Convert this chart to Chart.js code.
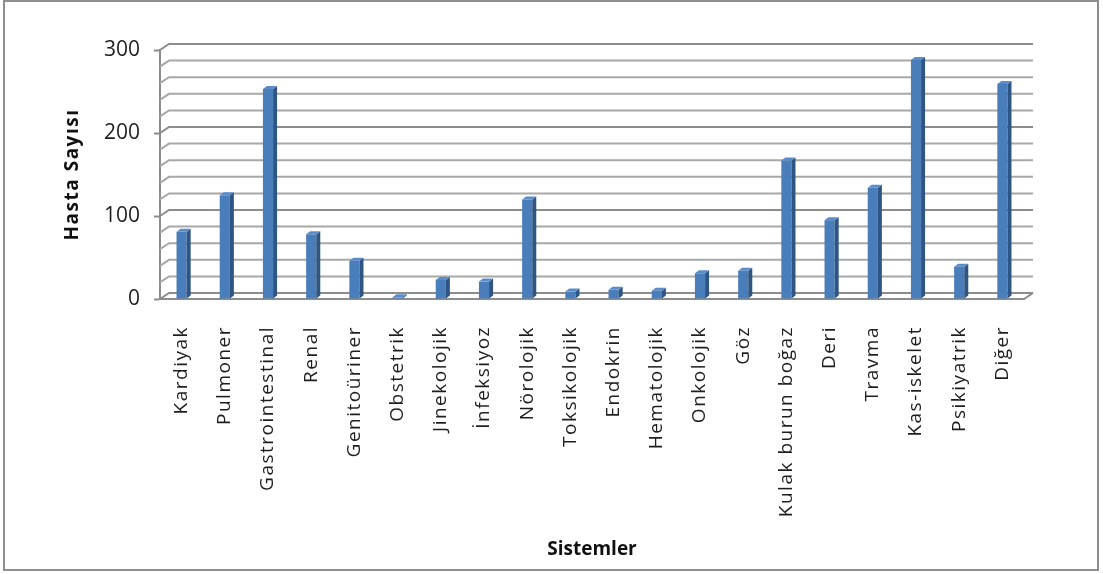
<!DOCTYPE html>
<html>
<head>
<meta charset="utf-8">
<script src="https://cdn.jsdelivr.net/npm/chart.js@4.4.1/dist/chart.umd.min.js"></script>
<style>
  html, body { margin: 0; padding: 0; background: #ffffff; }
  canvas { display: block; }
</style>
</head>
<body>
<canvas id="chart" width="1103" height="574"></canvas>
<script>
// Sistemlere göre hasta sayıları
const categories = [
  'Kardiyak', 'Pulmoner', 'Gastrointestinal', 'Renal', 'Genitoüriner',
  'Obstetrik', 'Jinekolojik', 'İnfeksiyoz', 'Nörolojik', 'Toksikolojik',
  'Endokrin', 'Hematolojik', 'Onkolojik', 'Göz', 'Kulak burun boğaz',
  'Deri', 'Travma', 'Kas-iskelet', 'Psikiyatrik', 'Diğer'
];
const patientCounts = [
  81, 125, 253, 78, 46,
  2, 23, 21, 120, 9,
  11, 10, 31, 34, 167,
  95, 134, 288, 39, 259
];
const yTickValues = [0, 100, 200, 300];
const yGridStep = 20;

const yAxisTitle = 'Hasta Sayısı';
const xAxisTitle = 'Sistemler';

// Pseudo-3D look: back wall offset and column depth
const WALL_DX = 9, WALL_DY = -6;
const BAR_DX = 4, BAR_DY = -3;

const threeD = {
  id: 'threeD',
  beforeDraw(chart) {
    // wider letter spacing for category labels and the value-axis title
    const xs = chart.scales.x, ys = chart.scales.y;
    if (!xs._spaced) {
      const origLabels = xs.drawLabels;
      xs.drawLabels = function (area) {
        const c = this.ctx; c.save(); c.letterSpacing = '1.5px';
        origLabels.call(this, area); c.restore();
      };
      xs._spaced = true;
    }
    if (!ys._spaced) {
      const origTitle = ys.drawTitle;
      ys.drawTitle = function (area) {
        const c = this.ctx; c.save(); c.letterSpacing = '1.5px';
        origTitle.call(this, area); c.restore();
      };
      ys._spaced = true;
    }
  },
  beforeDatasetsDraw(chart) {
    const { ctx, chartArea } = chart;
    const ys = chart.scales.y;
    const left = chartArea.left, right = chartArea.right;
    ctx.save();
    ctx.lineCap = 'butt';
    for (let v = ys.min; v <= ys.max; v += yGridStep) {
      const y = ys.getPixelForValue(v);
      const major = yTickValues.includes(v);
      ctx.strokeStyle = major ? '#8c8c8c' : '#a8a8a8';
      ctx.lineWidth = 2;
      ctx.beginPath();
      ctx.moveTo(left, y);
      ctx.lineTo(left + WALL_DX, y + WALL_DY);
      ctx.lineTo(right + WALL_DX, y + WALL_DY);
      ctx.stroke();
    }
    // floor right edge
    const y0 = ys.getPixelForValue(0);
    ctx.strokeStyle = '#8c8c8c';
    ctx.beginPath();
    ctx.moveTo(right, y0);
    ctx.lineTo(right + WALL_DX, y0 + WALL_DY);
    ctx.stroke();
    ctx.restore();
  },
  afterDatasetsDraw(chart) {
    const { ctx } = chart;
    const meta = chart.getDatasetMeta(0);
    ctx.save();
    meta.data.forEach((bar) => {
      const { x, y, base, width } = bar.getProps(['x', 'y', 'base', 'width'], true);
      const l = x - width / 2, r = x + width / 2;
      // side face
      ctx.fillStyle = '#2f5583';
      ctx.beginPath();
      ctx.moveTo(r, y);
      ctx.lineTo(r + BAR_DX, y + BAR_DY);
      ctx.lineTo(r + BAR_DX, base + BAR_DY);
      ctx.lineTo(r, base);
      ctx.closePath();
      ctx.fill();
      // top face
      ctx.fillStyle = '#5b8cc9';
      ctx.beginPath();
      ctx.moveTo(l, y);
      ctx.lineTo(l + BAR_DX, y + BAR_DY);
      ctx.lineTo(r + BAR_DX, y + BAR_DY);
      ctx.lineTo(r, y);
      ctx.closePath();
      ctx.fill();
    });
    ctx.restore();
  },
  afterDraw(chart) {
    const { ctx } = chart;
    ctx.save();
    ctx.strokeStyle = '#8e8e8e';
    ctx.lineWidth = 2;
    ctx.strokeRect(4, 1, 1094, 569);
    ctx.restore();
  }
};

new Chart(document.getElementById('chart'), {
  type: 'bar',
  data: {
    labels: categories,
    datasets: [{
      data: patientCounts,
      backgroundColor: '#4a7ebb',
      borderWidth: 0,
      barPercentage: 0.235,
      categoryPercentage: 1
    }]
  },
  plugins: [threeD],
  options: {
    responsive: false,
    animation: false,
    devicePixelRatio: 1,
    layout: { padding: { left: 57, right: 79, top: 50, bottom: 9 } },
    plugins: { legend: { display: false }, tooltip: { enabled: false } },
    scales: {
      x: {
        offset: true,
        grid: { display: false, drawTicks: false },
        border: { display: true, color: '#8c8c8c', width: 2 },
        ticks: {
          minRotation: 90, maxRotation: 90, autoSkip: false,
          padding: 27, color: '#1e1e1e', font: { family: '"Open Sans", sans-serif', size: 19 }
        },
        title: {
          display: true, text: xAxisTitle, color: '#111',
          font: { family: '"Open Sans", sans-serif', size: 19, weight: 'bold' },
          padding: { top: 4, bottom: 4 }
        },
        afterFit(scale) { scale.height = 266; }
      },
      y: {
        min: 0, max: 300,
        grid: {
          drawOnChartArea: false, drawTicks: true, tickLength: 6, tickWidth: 2,
          tickColor: (c) => (c.tick && yTickValues.includes(c.tick.value)) ? '#8c8c8c' : 'rgba(0,0,0,0)'
        },
        border: { display: true, color: '#8c8c8c', width: 2 },
        ticks: {
          stepSize: yGridStep, autoSkip: false, padding: 14, color: '#1e1e1e',
          font: { family: '"Open Sans", sans-serif', size: 21 },
          callback: (v) => yTickValues.includes(v) ? String(v) : ''
        },
        title: {
          display: true, text: yAxisTitle, color: '#111',
          font: { family: '"Open Sans", sans-serif', size: 19, weight: 'bold' },
          padding: { top: 4, bottom: 4 }
        },
        afterFit(scale) { scale.width = 103; }
      }
    }
  }
});
</script>
</body>
</html>
